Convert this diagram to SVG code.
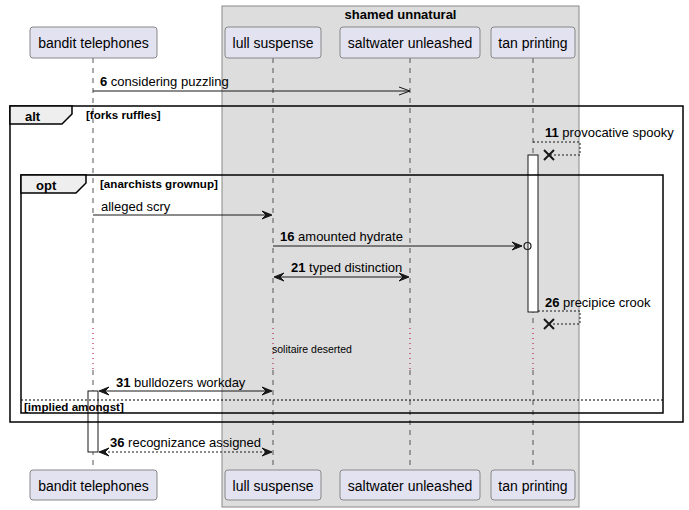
<svg xmlns="http://www.w3.org/2000/svg" width="689" height="510" viewBox="0 0 689 510">
<style>
text{font-family:"Liberation Sans",Arial,sans-serif;fill:#000}
.p rect{fill:#E2E2F0;stroke:#888;stroke-width:1}
.p text{font-size:14px;text-anchor:middle}
.m{font-size:13px}
.b{font-weight:bold}
.life{stroke:#555;stroke-width:1;stroke-dasharray:5,5;fill:none}
.delay{stroke:#A80036;stroke-width:1;stroke-dasharray:1,4;fill:none}
.ln{stroke:#181818;stroke-width:1;fill:none}
.dl{stroke:#181818;stroke-width:1;fill:none;stroke-dasharray:2,2}
.ah{fill:#181818;stroke:#181818;stroke-width:1}
.frame{fill:none;stroke:#000;stroke-width:1.5}
.tab{fill:#EEEEEE;stroke:#000;stroke-width:1.5}
.fl{font-size:11.6px;font-weight:bold}
.act{fill:#fff;stroke:#181818;stroke-width:1}
</style>
<g id="box-shamed-unnatural">
<rect x="222" y="6" width="357" height="501" fill="#DDDDDD" stroke="#888" stroke-width="1"/>
<text x="400.5" y="19" font-size="13" font-weight="bold" text-anchor="middle">shamed unnatural</text>
</g>
<g id="lifelines">
<path class="life" d="M93,58V328M93,370V470M273,58V328M273,370V470M410,58V328M410,370V470M533,58V328M533,370V470"/>
<path class="delay" d="M93,328V370M273,328V370M410,328V370M533,328V370"/>
</g>
<g id="bandit-telephones" class="p">
<rect x="30" y="27" width="127" height="31" rx="3"/><text x="93.5" y="48">bandit telephones</text>
<rect x="30" y="470" width="127" height="30" rx="3"/><text x="93.5" y="491">bandit telephones</text>
</g>
<g id="lull-suspense" class="p">
<rect x="225" y="27" width="96" height="31" rx="3"/><text x="273" y="48">lull suspense</text>
<rect x="225" y="470" width="96" height="30" rx="3"/><text x="273" y="491">lull suspense</text>
</g>
<g id="saltwater-unleashed" class="p">
<rect x="340" y="27" width="140" height="31" rx="3"/><text x="410" y="48">saltwater unleashed</text>
<rect x="340" y="470" width="140" height="30" rx="3"/><text x="410" y="491">saltwater unleashed</text>
</g>
<g id="tan-printing" class="p">
<rect x="491" y="27" width="84" height="31" rx="3"/><text x="533" y="48">tan printing</text>
<rect x="491" y="470" width="84" height="30" rx="3"/><text x="533" y="491">tan printing</text>
</g>
<g id="activations">
<rect class="act" x="528" y="155" width="10" height="157"/>
<rect class="act" x="88" y="391" width="10" height="61"/>
</g>
<g id="frames">
<rect class="frame" x="10" y="106" width="673" height="316"/>
<path class="tab" d="M10,106H72V114L62,124H10Z"/>
<text x="25" y="121" font-size="13" font-weight="bold">alt</text>
<text x="86" y="119" class="fl">[forks ruffles]</text>
<rect class="frame" x="21" y="175" width="642" height="238"/>
<path class="tab" d="M21,175H86V183L76,193H21Z"/>
<text x="36" y="190" font-size="13" font-weight="bold">opt</text>
<text x="100" y="188" class="fl">[anarchists grownup]</text>
<line x1="21" y1="400" x2="663" y2="400" stroke="#000" stroke-width="1" stroke-dasharray="2,2"/>
<text x="24" y="411" class="fl">[implied amongst]</text>
</g>
<g id="connectors">
<line class="ln" x1="93" y1="91" x2="410" y2="91"/>
<path class="ln" d="M399,87L410,91L399,95"/>
<text x="100" y="86" class="m"><tspan class="b">6</tspan> considering puzzling</text>

<path class="dl" d="M533,142H580V155H549"/>
<path d="M544,150L554,160M544,160L554,150" stroke="#181818" stroke-width="2"/>
<text x="545" y="137" class="m"><tspan class="b">11</tspan> provocative spooky</text>

<line class="ln" x1="93" y1="215" x2="271" y2="215"/>
<polygon class="ah" points="272,215 262,211 266,215 262,219"/>
<text x="101" y="211" class="m">alleged scry</text>

<line class="ln" x1="273" y1="246" x2="522" y2="246"/>
<polygon class="ah" points="522,246 512,242 516,246 512,250"/>
<circle cx="527.5" cy="246" r="3.5" fill="none" stroke="#181818" stroke-width="1.2"/>
<text x="280" y="241" class="m"><tspan class="b">16</tspan> amounted hydrate</text>

<line class="ln" x1="275" y1="277" x2="408" y2="277"/>
<polygon class="ah" points="274,277 284,273 280,277 284,281"/>
<polygon class="ah" points="409,277 399,273 403,277 399,281"/>
<text x="291" y="272" class="m"><tspan class="b">21</tspan> typed distinction</text>

<path class="dl" d="M538,311H580V324H549"/>
<path d="M544,319L554,329M544,329L554,319" stroke="#181818" stroke-width="2"/>
<text x="545" y="307" class="m"><tspan class="b">26</tspan> precipice crook</text>

<text x="272" y="353" font-size="10.5">solitaire deserted</text>

<line class="ln" x1="100" y1="391" x2="271" y2="391"/>
<polygon class="ah" points="99,391 109,387 105,391 109,395"/>
<polygon class="ah" points="272,391 262,387 266,391 262,395"/>
<text x="116" y="387" class="m"><tspan class="b">31</tspan> bulldozers workday</text>

<line class="dl" x1="100" y1="452" x2="271" y2="452"/>
<polygon class="ah" points="99,452 109,448 105,452 109,456"/>
<polygon class="ah" points="272,452 262,448 266,452 262,456"/>
<text x="110" y="447" class="m"><tspan class="b">36</tspan> recognizance assigned</text>
</g>
</svg>
